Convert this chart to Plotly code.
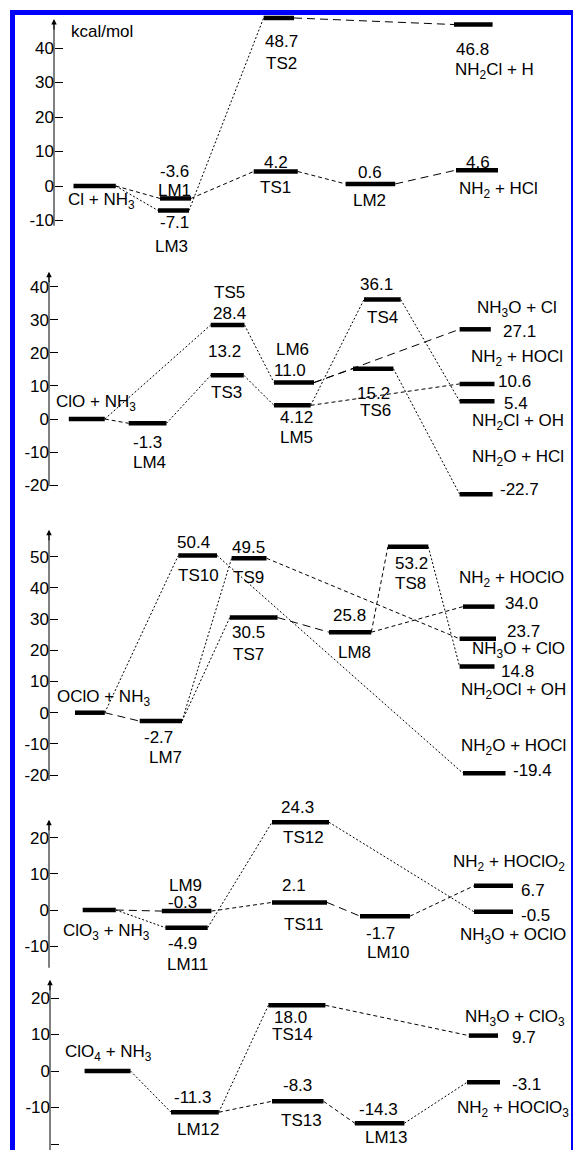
import plotly.graph_objects as go

W, H = 574, 1150
FONT = "Liberation Sans, Arial, Helvetica, sans-serif"
FS = 17

# ======================= DATA =======================
# Panel 1: Cl + NH3
P1_SPECIES = ["Cl + NH<sub>3</sub>", "LM1", "LM3", "TS1", "TS2", "LM2",
              "NH<sub>2</sub> + HCl", "NH<sub>2</sub>Cl + H"]
P1_ENERGY = [0.0, -3.6, -7.1, 4.2, 48.7, 0.6, 4.6, 46.8]
P1_PATHS = [(0, 1), (0, 2), (1, 3), (2, 4), (3, 5), (5, 6), (4, 7)]
P1_TICKS = [-10, 0, 10, 20, 30, 40]

# Panel 2: ClO + NH3
P2_SPECIES = ["ClO + NH<sub>3</sub>", "LM4", "TS5", "TS3", "LM6", "LM5", "TS4", "TS6",
              "NH<sub>3</sub>O + Cl", "NH<sub>2</sub> + HOCl", "NH<sub>2</sub>Cl + OH",
              "NH<sub>2</sub>O + HCl"]
P2_ENERGY = [0.0, -1.3, 28.4, 13.2, 11.0, 4.12, 36.1, 15.2, 27.1, 10.6, 5.4, -22.7]
P2_PATHS = [(0, 1), (0, 2), (1, 3), (2, 4), (3, 5), (4, 8), (4, 7), (5, 6), (5, 9),
            (6, 10), (7, 11)]
P2_TICKS = [-20, -10, 0, 10, 20, 30, 40]

# Panel 3: OClO + NH3
P3_SPECIES = ["OClO + NH<sub>3</sub>", "LM7", "TS10", "TS9", "TS7", "LM8", "TS8",
              "NH<sub>2</sub> + HOClO", "NH<sub>3</sub>O + ClO", "NH<sub>2</sub>OCl + OH",
              "NH<sub>2</sub>O + HOCl"]
P3_ENERGY = [0.0, -2.7, 50.4, 49.5, 30.5, 25.8, 53.2, 34.0, 23.7, 14.8, -19.4]
P3_PATHS = [(0, 2), (0, 1), (1, 3), (1, 4), (2, 10), (3, 8), (4, 5), (5, 6), (5, 7),
            (6, 9)]
P3_TICKS = [-20, -10, 0, 10, 20, 30, 40, 50]

# Panel 4: ClO3 + NH3
P4_SPECIES = ["ClO<sub>3</sub> + NH<sub>3</sub>", "LM9", "LM11", "TS12", "TS11", "LM10",
              "NH<sub>2</sub> + HOClO<sub>2</sub>", "NH<sub>3</sub>O + OClO"]
P4_ENERGY = [0.0, -0.3, -4.9, 24.3, 2.1, -1.7, 6.7, -0.5]
P4_PATHS = [(0, 1), (0, 2), (1, 4), (2, 3), (4, 5), (5, 6), (3, 7)]
P4_TICKS = [-10, 0, 10, 20]

# Panel 5: ClO4 + NH3
P5_SPECIES = ["ClO<sub>4</sub> + NH<sub>3</sub>", "LM12", "TS14", "TS13", "LM13",
              "NH<sub>3</sub>O + ClO<sub>3</sub>", "NH<sub>2</sub> + HOClO<sub>3</sub>"]
P5_ENERGY = [0.0, -11.3, 18.0, -8.3, -14.3, 9.7, -3.1]
P5_PATHS = [(0, 1), (1, 2), (1, 3), (2, 5), (3, 4), (4, 6)]
P5_TICKS = [-20, -10, 0, 10, 20]

UNIT = "kcal/mol"

# ======================= LAYOUT (positions / styles) =======================
S, M, L = "2px,2px", "4px,3px", "8px,5px"

LAYOUTS = [
    dict(axis_x=54, zero_px=186, ppu=3.45, tip=48.4, bottom=-11.5, band=(15, 258),
         x0=[73.5, 160, 158, 253.7, 263.6, 345.6, 456, 454],
         x1=[115.8, 191, 189, 297.8, 294, 395.2, 498, 492.6],
         num=[None, (174.6, 4.3), (174.6, -10.5), (275.7, 6.8), (281, 42.0),
              (369.5, 3.9), (478, 6.8), (472, 39.6)],
         name=[(101, -4.3), (174.6, -1.3), (171, -17.6), (275.7, -0.4), (281, 35.6),
               (369.5, -4.3), (498, -1.3), (494, 33.2)],
         dash=[M, S, M, S, M, L, L]),
    dict(axis_x=49, zero_px=419, ppu=3.31, tip=44.5, bottom=-20.3, band=(258, 500),
         x0=[68.8, 128.7, 210.7, 210.7, 274, 274, 364, 353, 459.6, 459.6, 459.6, 459.6],
         x1=[104.8, 166.5, 244.5, 243.8, 314, 310.7, 400.7, 393.4, 490.8, 494.5, 494.5, 492.6],
         num=[None, (147, -7.1), (229.8, 31.9), (224, 20.3), (290.4, 14.8), (296, 0.5),
              (376.8, 40.5), (373, 7.8), (519, 26.4), (514, 11.3), (516, 4.7), (519, -21.4)],
         name=[(95.6, 4.9), (149, -13.1), (229.8, 38.2), (226, 8.0), (292, 21.0), (296, -5.5),
               (382, 30.7), (375, 2.5), (516.5, 33.1), (516.5, 18.3), (518, -1.0),
               (518, -11.9)],
         dash=[M, S, S, S, S, L, L, S, M, S, S]),
    dict(axis_x=49, zero_px=712.7, ppu=3.12, tip=58.6, bottom=-21.6, band=(500, 790),
         x0=[75, 139.7, 178.3, 231.6, 229.8, 329, 387.9, 463, 459.6, 459.6, 463],
         x1=[104.8, 182, 217, 266.5, 277.6, 371.3, 428.3, 494.5, 496, 494.5, 505.5],
         num=[None, (158, -7.9), (193, 54.5), (248, 52.9), (248, 25.8), (349, 31.0),
              (411.8, 47.7), (521, 35), (523, 26), (517, 13.1), (532, -18.4)],
         name=[(103, 4.8), (165.4, -14.3), (198.5, 43.9), (248, 43.4), (248, 18.8),
               (354.8, 19.4), (410, 41.3), (511, 42.7), (518, 20.1), (513, 7.1),
               (513, -10.9)],
         dash=[S, L, S, S, S, M, L, M, M, S]),
    dict(axis_x=49, zero_px=910, ppu=3.61, tip=25, bottom=-16, band=(790, 975),
         x0=[82.7, 161.8, 165.4, 272, 272, 360, 474, 474],
         x1=[115.8, 211.4, 207.7, 329, 327, 410, 513, 513],
         num=[None, (182, 2.0), (182, -9.4), (297.8, 28.4), (294, 6.7), (380.5, -6.5),
              (533, 5.5), (535, -1.4)],
         name=[(106.6, -6.2), (185.7, 6.9), (187.5, -15.0), (303.3, 20.1), (303.3, -3.9),
               (388, -11.7), (509, 13.1), (513, -7.1)],
         dash=[L, S, M, S, L, M, S]),
    dict(axis_x=50, zero_px=1071, ppu=3.65, tip=25, bottom=-22, band=(975, 1150),
         x0=[84.6, 171, 268.4, 272, 354.8, 468.8, 467],
         x1=[130.5, 218.8, 325.4, 323.5, 404.4, 498, 500],
         num=[None, (193, -7.3), (290.4, 14.7), (297.8, -4.1), (378.7, -10.5),
              (524, 9.2), (526, -3.8)],
         name=[(108.5, 5.0), (198.5, -15.9), (292, 10.1), (301.5, -13.6), (386, -18.2),
               (514.7, 14.4), (513, -10.4)],
         dash=[S, S, M, M, M, S]),
]

PANELS = [
    (P1_SPECIES, P1_ENERGY, P1_PATHS, P1_TICKS),
    (P2_SPECIES, P2_ENERGY, P2_PATHS, P2_TICKS),
    (P3_SPECIES, P3_ENERGY, P3_PATHS, P3_TICKS),
    (P4_SPECIES, P4_ENERGY, P4_PATHS, P4_TICKS),
    (P5_SPECIES, P5_ENERGY, P5_PATHS, P5_TICKS),
]

fig = go.Figure()
layout = dict(width=W, height=H, margin=dict(l=0, r=0, t=0, b=0),
              paper_bgcolor="white", plot_bgcolor="rgba(0,0,0,0)",
              showlegend=False, font=dict(family=FONT, size=FS, color="black"))
shapes, annotations = [], []
TXT = dict(family=FONT, size=FS, color="black")

for i, ((species, energy, paths, ticks), Lo) in enumerate(zip(PANELS, LAYOUTS), start=1):
    xn = "x" if i == 1 else f"x{i}"
    yn = "y" if i == 1 else f"y{i}"
    xk = "xaxis" if i == 1 else f"xaxis{i}"
    yk = "yaxis" if i == 1 else f"yaxis{i}"
    top_px, bot_px = Lo["band"]
    z, s = Lo["zero_px"], Lo["ppu"]
    layout[xk] = dict(domain=[0, 1], range=[0, W], visible=False, fixedrange=True,
                      anchor=yn)
    layout[yk] = dict(domain=[1 - bot_px / H, 1 - top_px / H],
                      range=[(z - bot_px) / s, (z - top_px) / s],
                      anchor="free", position=Lo["axis_x"] / W,
                      showline=False, showgrid=False, zeroline=False,
                      ticks="inside", ticklen=8, tickwidth=1, tickcolor="black",
                      tickvals=ticks, ticktext=[str(t) for t in ticks],
                      tickfont=TXT, fixedrange=True)

    # connectors
    for (a, b), dash in zip(paths, Lo["dash"]):
        fig.add_trace(go.Scatter(x=[Lo["x1"][a], Lo["x0"][b]], y=[energy[a], energy[b]],
                                 mode="lines", line=dict(color="black", width=1, dash=dash),
                                 xaxis=xn, yaxis=yn, hoverinfo="skip"))
    # energy levels
    bx, by = [], []
    for e, x0, x1 in zip(energy, Lo["x0"], Lo["x1"]):
        bx += [x0, x1, None]
        by += [e, e, None]
    fig.add_trace(go.Scatter(x=bx, y=by, mode="lines",
                             line=dict(color="black", width=4.5),
                             xaxis=xn, yaxis=yn, hoverinfo="skip"))
    # labels (energies and species names)
    for nm, e, nxy, mxy in zip(species, energy, Lo["num"], Lo["name"]):
        if nxy is not None:
            annotations.append(dict(x=nxy[0], y=nxy[1], xref=xn, yref=yn, text=str(e),
                                    showarrow=False, xanchor="center", yanchor="middle",
                                    font=TXT))
        annotations.append(dict(x=mxy[0], y=mxy[1], xref=xn, yref=yn, text=nm,
                                showarrow=False, xanchor="center", yanchor="middle",
                                font=TXT))

    # axis line + arrow
    ax = Lo["axis_x"] / W
    shapes.append(dict(type="line", xref="paper", yref=yn, x0=ax, x1=ax,
                       y0=Lo["bottom"], y1=Lo["tip"] - 1,
                       line=dict(color="black", width=1)))
    annotations.append(dict(x=ax, y=Lo["tip"], xref="paper", yref=yn, text="",
                            showarrow=True, ax=0, ay=12, arrowhead=2, arrowsize=1.1,
                            arrowwidth=1, arrowcolor="black", standoff=0))
    if i == 1:
        annotations.append(dict(x=69 / W, y=44.7, xref="paper", yref=yn, text=UNIT,
                                showarrow=False, xanchor="left", yanchor="middle",
                                font=TXT))

# blue frame
BLUE = "#0000ff"
shapes += [
    dict(type="line", xref="paper", yref="paper", x0=12.5 / W, x1=12.5 / W,
         y0=1 - 10 / H, y1=0, line=dict(color=BLUE, width=5)),
    dict(type="line", xref="paper", yref="paper", x0=10 / W, x1=573 / W,
         y0=1 - 12.5 / H, y1=1 - 12.5 / H, line=dict(color=BLUE, width=5)),
    dict(type="line", xref="paper", yref="paper", x0=572 / W, x1=572 / W,
         y0=1 - 10 / H, y1=0, line=dict(color=BLUE, width=2)),
]

layout["shapes"] = shapes
layout["annotations"] = annotations
fig.update_layout(**layout)

fig.write_html("out.html", config={"displayModeBar": False, "staticPlot": True},
               post_script="document.body.style.margin='0';document.body.style.overflow='hidden';")
